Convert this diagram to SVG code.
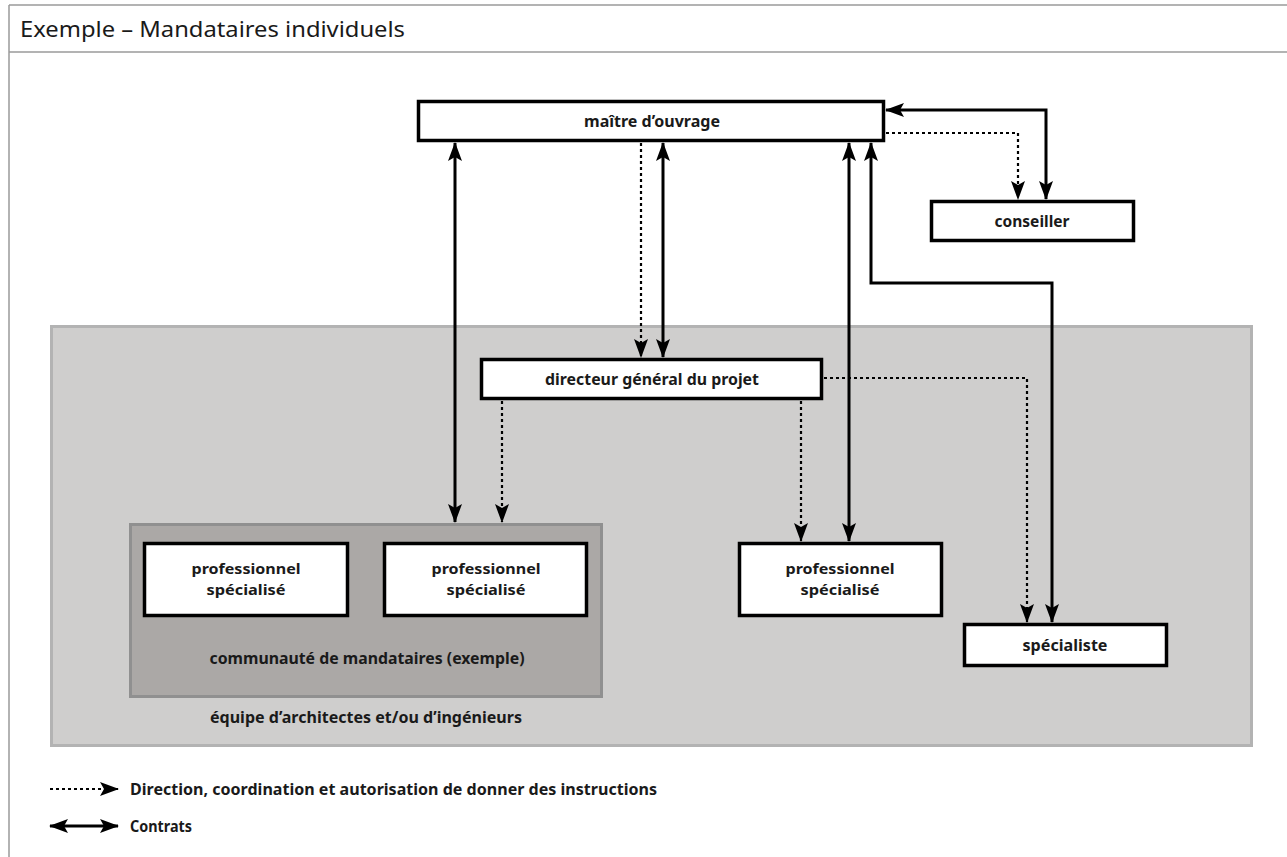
<svg xmlns="http://www.w3.org/2000/svg" width="1287" height="857" viewBox="0 0 1287 857">
<style>
.frame{fill:none;stroke:#9a9a9a;stroke-width:1.5}
.box{fill:#fff;stroke:#000;stroke-width:3.5}
.lbl{font-family:"Noto Sans","Open Sans",sans-serif;font-weight:bold;font-size:16px;fill:#1a1a1a;text-anchor:middle}
.two{font-size:15px}
.title{font-family:"Noto Sans","Open Sans",sans-serif;font-size:22px;fill:#1a1a1a}
.solid{fill:none;stroke:#000;stroke-width:3}
.dot{fill:none;stroke:#000;stroke-width:2.2;stroke-dasharray:3 3}
</style>
<defs>
<marker id="ah" markerUnits="userSpaceOnUse" markerWidth="19" markerHeight="14" refX="18" refY="7" orient="auto-start-reverse" viewBox="0 0 19 14">
<path d="M0,0 L19,7 L0,14 L4,7 z" fill="#000"/>
</marker>
</defs>
<rect x="0" y="0" width="1287" height="857" fill="#fff"/>
<g id="frame">
<line class="frame" x1="9" y1="5" x2="1287" y2="5"/>
<line class="frame" x1="9" y1="5" x2="9" y2="857"/>
<line class="frame" x1="9" y1="52" x2="1287" y2="52"/>
<text class="title" x="20" y="37" textLength="385" lengthAdjust="spacingAndGlyphs">Exemple – Mandataires individuels</text>
</g>
<g id="team">
<rect x="51.5" y="326.5" width="1200" height="419" fill="#cfcecd" stroke="#b3b3b3" stroke-width="3"/>
<text class="lbl" x="366" y="723" textLength="312" lengthAdjust="spacingAndGlyphs">équipe d’architectes et/ou d’ingénieurs</text>
</g>
<g id="community">
<rect x="130.5" y="524.5" width="471" height="172" fill="#aba8a6" stroke="#909090" stroke-width="3"/>
<text class="lbl" x="367" y="664" textLength="315" lengthAdjust="spacingAndGlyphs">communauté de mandataires (exemple)</text>
</g>
<g id="maitre">
<rect class="box" x="418.5" y="101.5" width="465" height="39"/>
<text class="lbl" x="652" y="127" textLength="136" lengthAdjust="spacingAndGlyphs">maître d’ouvrage</text>
</g>
<g id="conseiller">
<rect class="box" x="931.5" y="201.5" width="202" height="39"/>
<text class="lbl" x="1032" y="227" textLength="75" lengthAdjust="spacingAndGlyphs">conseiller</text>
</g>
<g id="directeur">
<rect class="box" x="481.5" y="359.5" width="340" height="39"/>
<text class="lbl" x="652" y="385" textLength="214" lengthAdjust="spacingAndGlyphs">directeur général du projet</text>
</g>
<g id="prof1">
<rect class="box" x="144.5" y="543.5" width="203" height="72"/>
<text class="lbl two" x="246" y="574" textLength="109" lengthAdjust="spacingAndGlyphs">professionnel</text>
<text class="lbl two" x="246" y="595" textLength="79" lengthAdjust="spacingAndGlyphs">spécialisé</text>
</g>
<g id="prof2">
<rect class="box" x="384.5" y="543.5" width="202" height="72"/>
<text class="lbl two" x="486" y="574" textLength="109" lengthAdjust="spacingAndGlyphs">professionnel</text>
<text class="lbl two" x="486" y="595" textLength="79" lengthAdjust="spacingAndGlyphs">spécialisé</text>
</g>
<g id="prof3">
<rect class="box" x="739.5" y="543.5" width="202" height="72"/>
<text class="lbl two" x="840" y="574" textLength="109" lengthAdjust="spacingAndGlyphs">professionnel</text>
<text class="lbl two" x="840" y="595" textLength="79" lengthAdjust="spacingAndGlyphs">spécialisé</text>
</g>
<g id="specialiste">
<rect class="box" x="964.5" y="624.5" width="202" height="41"/>
<text class="lbl" x="1065" y="651" textLength="85" lengthAdjust="spacingAndGlyphs">spécialiste</text>
</g>
<g id="connectors">
<path class="solid" d="M455,143 V522" marker-start="url(#ah)" marker-end="url(#ah)"/>
<path class="dot" d="M641,143 V357" marker-end="url(#ah)"/>
<path class="solid" d="M663,143 V357" marker-start="url(#ah)" marker-end="url(#ah)"/>
<path class="solid" d="M849,143 V541" marker-start="url(#ah)" marker-end="url(#ah)"/>
<path class="solid" d="M871,143 V283 H1052 V622" marker-start="url(#ah)" marker-end="url(#ah)"/>
<path class="solid" d="M886,110 H1046 V199" marker-start="url(#ah)" marker-end="url(#ah)"/>
<path class="dot" d="M886,133 H1018 V199" marker-end="url(#ah)"/>
<path class="dot" d="M502,401 V522" marker-end="url(#ah)"/>
<path class="dot" d="M801,401 V541" marker-end="url(#ah)"/>
<path class="dot" d="M824,378 H1027 V622" marker-end="url(#ah)"/>
</g>
<g id="legend">
<path class="dot" d="M50,789 H118" marker-end="url(#ah)"/>
<text class="lbl" x="130" y="795" style="text-anchor:start" textLength="527" lengthAdjust="spacingAndGlyphs">Direction, coordination et autorisation de donner des instructions</text>
<path class="solid" d="M50,826 H118" marker-start="url(#ah)" marker-end="url(#ah)"/>
<text class="lbl" x="130" y="832" style="text-anchor:start" textLength="62" lengthAdjust="spacingAndGlyphs">Contrats</text>
</g>
</svg>
